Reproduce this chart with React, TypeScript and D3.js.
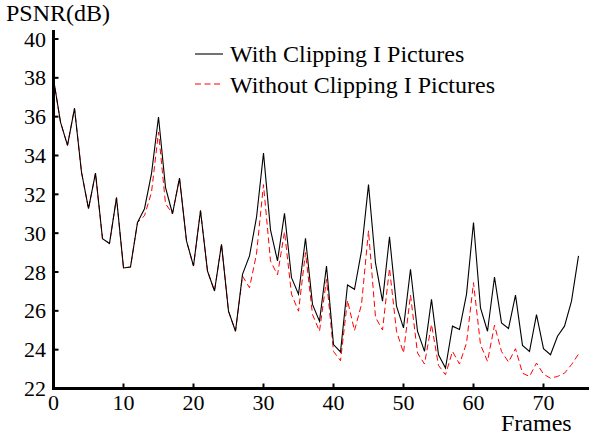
import React from 'react';
import * as d3 from 'd3';

// PSNR per frame
const withClipping = [
  37.95, 35.72, 34.52, 36.43, 33.14, 31.26, 33.09, 29.71, 29.47, 31.83,
  28.21, 28.26, 30.55, 31.26, 33.07, 35.98, 32.36, 31.0, 32.84, 29.6,
  28.31, 31.16, 28.05, 27.02, 29.43, 25.98, 24.95, 27.88, 28.83, 30.81,
  34.12, 30.17, 28.57, 31.02, 27.71, 26.86, 29.74, 26.33, 25.47, 28.31,
  24.26, 23.88, 27.33, 27.11, 29.09, 32.5, 28.47, 26.5, 29.81, 26.24,
  25.12, 28.14, 24.95, 23.91, 26.59, 23.74, 23.05, 25.21, 25.04, 26.85,
  30.55, 26.15, 24.95, 27.74, 25.38, 25.09, 26.81, 24.22, 23.91, 25.81,
  24.05, 23.74, 24.69, 25.21, 26.5, 28.83,
];

const withoutClipping = [
  37.95, 35.72, 34.52, 36.43, 33.14, 31.26, 33.09, 29.71, 29.47, 31.83,
  28.21, 28.26, 30.55, 30.9, 32.1, 35.21, 31.52, 31.0, 32.84, 29.6,
  28.31, 31.16, 28.05, 27.02, 29.43, 25.98, 24.95, 27.79, 27.19, 28.93,
  32.5, 28.57, 27.85, 30.07, 26.86, 25.98, 29.0, 25.81, 24.95, 27.62,
  23.91, 23.43, 26.54, 24.98, 26.33, 30.12, 25.67, 25.01, 28.19, 24.95,
  23.83, 26.81, 23.83, 23.26, 25.3, 23.19, 22.71, 23.91, 23.26, 24.34,
  27.45, 24.26, 23.4, 25.26, 23.91, 23.36, 24.05, 22.79, 22.62, 23.31,
  22.74, 22.53, 22.62, 22.79, 23.23, 23.77,
];

const xTicks = [0, 10, 20, 30, 40, 50, 60, 70];
const yTicks = [22, 24, 26, 28, 30, 32, 34, 36, 38, 40];
const legendLabels = ['With Clipping I Pictures', 'Without Clipping I Pictures'];

const W = 589;
const H = 439;
const font = '"Liberation Serif", "Times New Roman", serif';

export default function App() {
  const x = d3.scaleLinear().domain([0, 70]).range([53.5, 543.5]);
  const y = d3.scaleLinear().domain([22, 40]).range([388.5, 39]);

  const line = d3
    .line<number>()
    .x((_, i) => x(i))
    .y((d) => y(d));

  return (
    <svg
      width={W}
      height={H}
      style={{ position: 'absolute', left: 0, top: 0, background: '#fff' }}
      fontFamily={font}
    >
      <text x={6} y={21} fontSize={24}>PSNR(dB)</text>

      {/* data */}
      <path d={line(withoutClipping) || ''} fill="none" stroke="#ff0000" strokeWidth={1} strokeDasharray="6,3.5" />
      <path d={line(withClipping) || ''} fill="none" stroke="#000" strokeWidth={1.1} />

      {/* axes */}
      <line x1={x(0)} x2={x(0)} y1={30} y2={y(22) + 1.5} stroke="#000" strokeWidth={3} />
      <line x1={x(0) - 1.5} x2={W} y1={y(22)} y2={y(22)} stroke="#000" strokeWidth={3} />

      {yTicks.map((t) => (
        <g key={'y' + t}>
          {t !== 22 && (
            <line x1={x(0)} x2={x(0) + 5} y1={y(t)} y2={y(t)} stroke="#000" strokeWidth={2} />
          )}
          <text x={46} y={y(t) + 7.5} fontSize={22} textAnchor="end">{t}</text>
        </g>
      ))}

      {xTicks.map((t) => (
        <g key={'x' + t}>
          {t !== 0 && (
            <line x1={x(t)} x2={x(t)} y1={y(22)} y2={y(22) - 5} stroke="#000" strokeWidth={2} />
          )}
          <text x={x(t)} y={409.5} fontSize={22} textAnchor="middle">{t}</text>
        </g>
      ))}

      <text x={501} y={431} fontSize={24}>Frames</text>

      {/* legend */}
      <line x1={195} x2={223} y1={54} y2={54} stroke="#000" strokeWidth={1.1} />
      <text x={230} y={62} fontSize={24}>{legendLabels[0]}</text>
      <line x1={195} x2={223} y1={84} y2={84} stroke="#ff0000" strokeWidth={1} strokeDasharray="6,3.5" />
      <text x={230} y={93} fontSize={24}>{legendLabels[1]}</text>
    </svg>
  );
}
